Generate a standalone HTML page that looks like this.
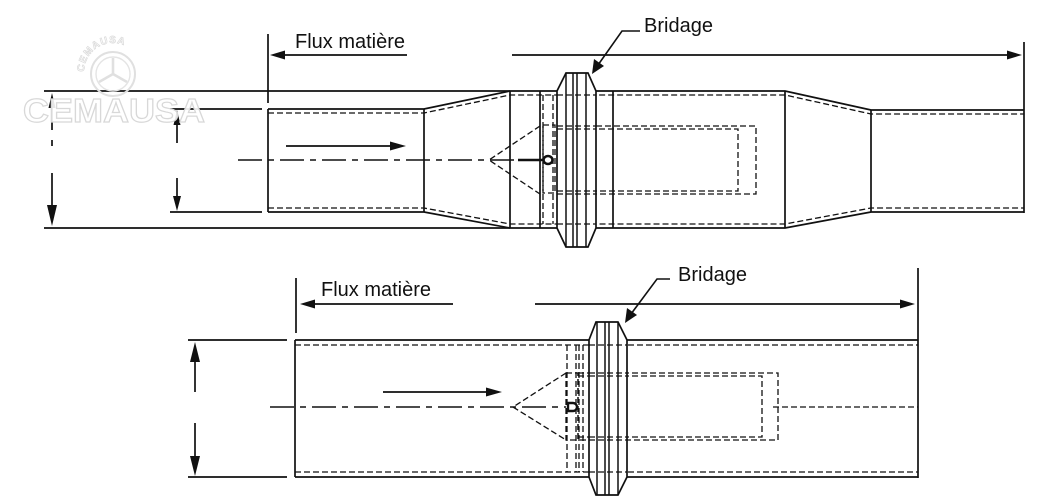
<!DOCTYPE html>
<html>
<head>
<meta charset="utf-8">
<style>
html,body{margin:0;padding:0;background:#fff;}
svg{display:block;}
text{font-family:"Liberation Sans",Arial,sans-serif;}
</style>
</head>
<body>
<svg width="1054" height="502" viewBox="0 0 1054 502" xmlns="http://www.w3.org/2000/svg">
<defs>
<path id="arcp" d="M84 72 A29 29 0 0 1 142 72"/>
</defs>
<rect width="1054" height="502" fill="#fff"/>

<!-- ================= TOP DIAGRAM ================= -->
<g fill="none" stroke="#111" stroke-width="1.7">
  <path d="M44 91 H785 L871 110 H1024"/>
  <path d="M44 228 H785 L871 212 H1024"/>
  <path d="M268 109 H424 L510 91"/>
  <path d="M268 212 H424 L510 228"/>
  <path d="M268 109 V212"/>
  <path d="M424 109 V212"/>
  <path d="M510 91 V228"/>
  <path d="M540 91 V228"/>
  <path d="M613 91 V228"/>
  <path d="M785 91 V228"/>
  <path d="M871 110 V212"/>
  <path d="M1024 42 V213"/>
  <path d="M268 34 V103"/>
  <path d="M170 109 H262"/>
  <path d="M170 212 H262"/>
  <path d="M52 104 V130"/>
  <path d="M52 140 V146"/>
  <path d="M52 173 V208"/>
  <path d="M177 122 V143"/>
  <path d="M177 178 V198"/>
  <path d="M407 55 H282"/>
  <path d="M512 55 H1008"/>
  <path d="M286 146 H392"/>
</g>
<g fill="#111" stroke="none">
  <polygon points="270,55 285,50.5 285,59.5"/>
  <polygon points="1022,55 1007,50.5 1007,59.5"/>
  <polygon points="406,146 390,141.5 390,150.5"/>
  <polygon points="52,93 48.5,108 55.5,108"/>
  <polygon points="52,226 47,205 57,205"/>
  <polygon points="177,110 173.5,125 180.5,125"/>
  <polygon points="177,211 173,196 181,196"/>
</g>
<g fill="none" stroke="#111" stroke-width="1.3" stroke-dasharray="6,3">
  <path d="M268 113 H424 L510 95 H785 L871 114 H1024"/>
  <path d="M268 208 H424 L510 224 H785 L871 208 H1024"/>
  <path d="M543 95 V224"/>
  <path d="M553 95 V224"/>
  <rect x="543" y="125" width="12" height="68"/>
  <path d="M540 126 L489 160 L540 194"/>
  <rect x="560" y="126" width="196" height="68"/>
  <path d="M563 129 H738 V191 H563 Z"/>
</g>
<path d="M238 160 H520" fill="none" stroke="#111" stroke-width="1.4" stroke-dasharray="24,6,6,6"/>
<path d="M518 160 H543" fill="none" stroke="#111" stroke-width="2.4"/>
<ellipse cx="548" cy="160" rx="4.5" ry="4" fill="#fff" stroke="#111" stroke-width="2.6"/>
<g fill="#fff" stroke="#111" stroke-width="1.7">
  <polygon points="566,73 588,73 596,91 596,228 588,247 566,247 557,228 557,91"/>
</g>
<g fill="none" stroke="#111" stroke-width="1.5">
  <path d="M566 73 V247"/>
  <path d="M573 73 V247"/>
  <path d="M577 73 V247"/>
  <path d="M586 73 V247"/>
</g>
<g fill="none" stroke="#111" stroke-width="1.2" stroke-dasharray="6,3">
  <path d="M557 95 H596 M557 126 H596 M557 129 H596 M557 191 H596 M557 194 H596 M557 224 H596"/>
</g>
<path d="M640 31 H622 L598 65" fill="none" stroke="#111" stroke-width="1.6"/>
<polygon points="592,74 594,59 604,66" fill="#111"/>
<text x="644" y="32" font-size="20" fill="#111">Bridage</text>
<text x="295" y="48" font-size="20" fill="#111">Flux matière</text>

<!-- ================= BOTTOM DIAGRAM ================= -->
<g fill="none" stroke="#111" stroke-width="1.7">
  <path d="M295 340 H918"/>
  <path d="M295 477 H918"/>
  <path d="M295 340 V477"/>
  <path d="M918 268 V478"/>
  <path d="M296 278 V333"/>
  <path d="M188 340 H287"/>
  <path d="M188 477 H287"/>
  <path d="M195 360 V392"/>
  <path d="M195 423 V458"/>
  <path d="M453 304 H312"/>
  <path d="M535 304 H901"/>
  <path d="M383 392 H488"/>
</g>
<g fill="#111" stroke="none">
  <polygon points="300,304 315,299.5 315,308.5"/>
  <polygon points="915,304 900,299.5 900,308.5"/>
  <polygon points="502,392 486,387.5 486,396.5"/>
  <polygon points="195,342 190,362 200,362"/>
  <polygon points="195,476 190,456 200,456"/>
</g>
<g fill="none" stroke="#111" stroke-width="1.3" stroke-dasharray="6,3">
  <path d="M295 345 H918"/>
  <path d="M295 472 H918"/>
  <path d="M567 345 V472"/>
  <path d="M576 345 V472"/>
  <path d="M579 345 V472"/>
  <path d="M583 345 V472"/>
  <path d="M566 373 L513 407 L566 440"/>
  <rect x="566" y="373" width="12" height="67"/>
  <rect x="578" y="373" width="200" height="67"/>
  <path d="M578 376 H762 V437 H578"/>
  <path d="M773 407 H918"/>
</g>
<path d="M270 407 H566" fill="none" stroke="#111" stroke-width="1.4" stroke-dasharray="24,6,6,6"/>
<path d="M568 403 h5 a4 4 0 0 1 0 8 h-5 z" fill="#fff" stroke="#111" stroke-width="2.4"/>
<g fill="#fff" stroke="#111" stroke-width="1.7">
  <polygon points="596,322 618,322 627,340 627,477 618,495 596,495 589,477 589,340"/>
</g>
<g fill="none" stroke="#111" stroke-width="1.5">
  <path d="M597 322 V495"/>
  <path d="M605 322 V495"/>
  <path d="M609 322 V495"/>
  <path d="M618 322 V495"/>
</g>
<g fill="none" stroke="#111" stroke-width="1.2" stroke-dasharray="6,3">
  <path d="M589 345 H627 M589 373 H627 M589 376 H627 M589 437 H627 M589 440 H627 M589 472 H627"/>
</g>
<path d="M670 279 H657 L631 314" fill="none" stroke="#111" stroke-width="1.6"/>
<polygon points="625,323 627,308 637,315" fill="#111"/>
<text x="678" y="281" font-size="20" fill="#111">Bridage</text>
<text x="321" y="296" font-size="20" fill="#111">Flux matière</text>

<!-- ================= WATERMARK ================= -->
<g>
  <circle cx="113" cy="74" r="22" fill="none" stroke="#e0e0e0" stroke-width="2"/>
  <circle cx="113" cy="74" r="17" fill="none" stroke="#e4e4e4" stroke-width="1.4"/>
  <path d="M113 74 V58 M113 74 L99 82 M113 74 L127 82" stroke="#e0e0e0" stroke-width="2.6" fill="none"/>
  <text font-size="10" font-weight="bold" fill="#fff" stroke="#dadada" stroke-width="0.7" letter-spacing="1"><textPath href="#arcp">CEMAUSA</textPath></text>
  <text x="23" y="122" font-size="33" font-weight="bold" fill="#fff" fill-opacity="0.9" stroke="#d8d8d8" stroke-width="1.2" textLength="182" lengthAdjust="spacingAndGlyphs">CEMAUSA</text>
</g>
</svg>
</body>
</html>
